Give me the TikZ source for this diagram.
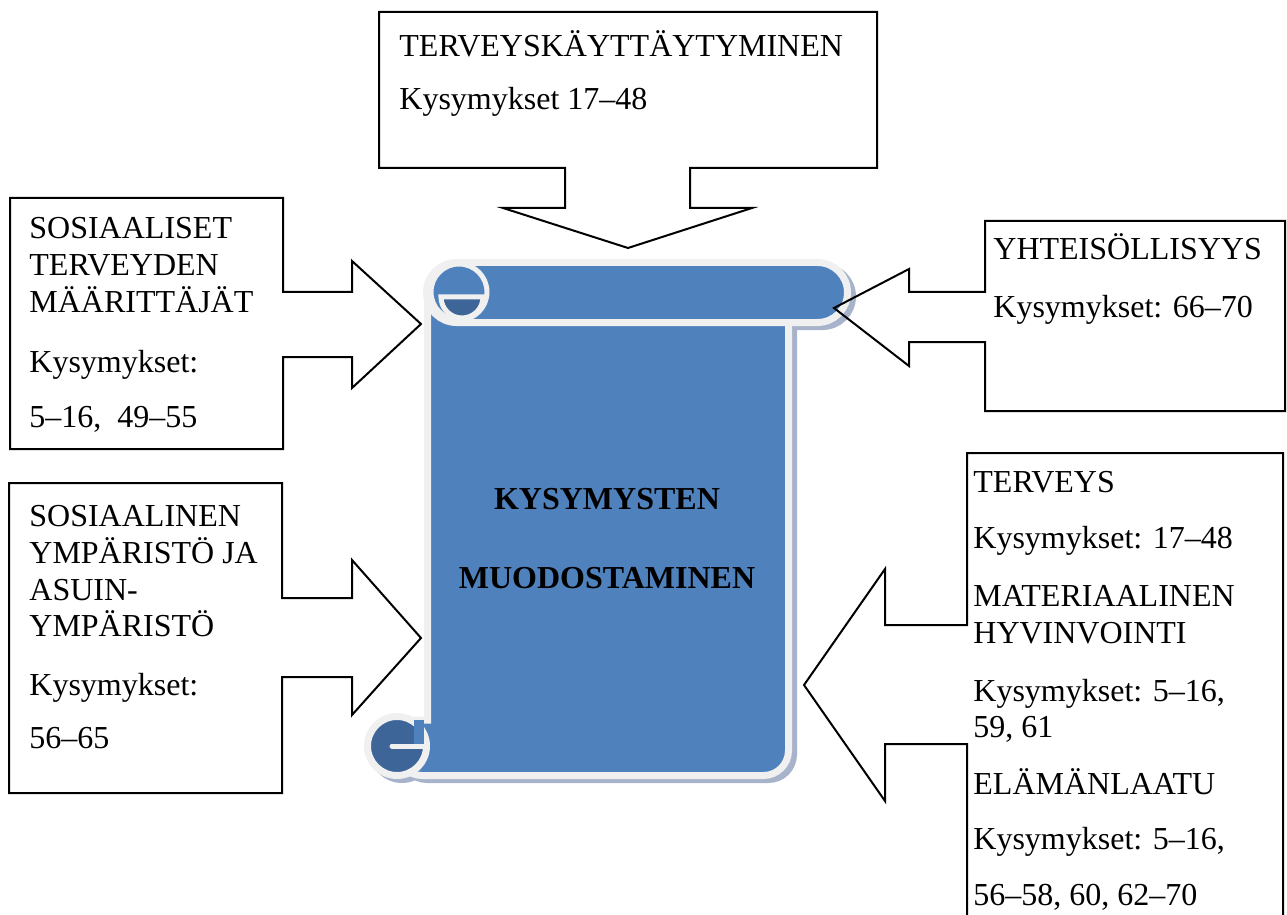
\documentclass[tikz,border=0pt]{standalone}
\usepackage{fontspec}
\setmainfont{Liberation Serif}
\definecolor{scrollblue}{HTML}{4F81BD}
\definecolor{curldark}{HTML}{3E6598}
\definecolor{scrollrim}{HTML}{F0F0F0}
\definecolor{scrollshade}{HTML}{A6B3CB}
\begin{document}
\begin{tikzpicture}[x=0.5pt, y=-0.5pt,
  callout/.style={draw=black, line width=1pt, fill=white},
  rim/.style={draw=scrollrim, line width=3.5pt},
  shade/.style={draw=scrollshade, fill=scrollshade, line width=3.5pt},
  boxtext/.style={anchor=base west, inner sep=0pt, font=\fontsize{16}{18.5}\selectfont},
  scrolltext/.style={anchor=base, inner sep=0pt, font=\fontsize{16}{18.5}\selectfont\bfseries}]
  \useasboundingbox (0,0) rectangle (1287,915);
  \clip (0,0) rectangle (1287,915);
  \begin{scope}[shift={(5,4)}]
  \filldraw[shade] (427.5,300) -- (788.5,300) {[rounded corners=12.5pt] -- (788.5,775.5) -- (397,775.5)}
    -- (397,720) -- (427.5,720) -- cycle;
  \filldraw[shade, rounded corners=15pt] (426.5,262.5) rectangle (847.5,322.5);
  \filldraw[shade] (397,746) circle (29.5);
  \end{scope}
  \filldraw[rim, fill=scrollblue] (427.5,300) -- (788.5,300) {[rounded corners=12.5pt] -- (788.5,775.5) -- (397,775.5)}
    -- (397,720) -- (427.5,720) -- cycle;
  \filldraw[rim, fill=curldark] (397,746) circle (29.5);
  \fill[scrollblue] (414,720) rectangle (424,744);
  \draw[draw=scrollrim, line width=2.5pt, line cap=round] (392,746) -- (424,746);
  \filldraw[rim, fill=scrollblue, rounded corners=15pt] (426.5,262.5) rectangle (847.5,322.5);
  \draw[draw=scrollrim, line width=2.5pt] (459,292) circle (28);
  \filldraw[draw=scrollrim, line width=2.5pt, fill=curldark] (441,297) -- (483,297)
    arc[start angle=0, end angle=180, radius=21] -- cycle;
  \draw[callout] (379,12) -- (877,12) -- (877,168) -- (690,168) -- (690,208) -- (752,208) -- (628,248)
    -- (503,208) -- (565,208) -- (565,168) -- (379,168) -- cycle;
  \draw[callout] (10,198) -- (283,198) -- (283,292) -- (352,292) -- (352,261) -- (421,324) -- (352,388)
    -- (352,357) -- (283,357) -- (283,449) -- (10,449) -- cycle;
  \draw[callout] (9,483) -- (282,483) -- (282,598) -- (352,598) -- (352,560) -- (421,638) -- (352,715)
    -- (352,677) -- (282,677) -- (282,793) -- (9,793) -- cycle;
  \draw[callout, fill=none] (985,221) -- (1285,221) -- (1285,411) -- (985,411) -- (985,342) -- (909,342) -- (909,366)
    -- (834,308) -- (909,269) -- (909,292) -- (985,292) -- cycle;
  \draw[callout] (967,453) -- (1283,453) -- (1283,940) -- (967,940) -- (967,744) -- (885,744) -- (885,801)
    -- (804,685) -- (885,569) -- (885,625) -- (967,625) -- cycle;
  \node[scrolltext] (kys) at (607,509) {KYSYMYSTEN};
  \node[scrolltext] (muo) at (607,588) {MUODOSTAMINEN};
  \node[boxtext] (tk1) at (399,57) {TERVEYSKÄYTTÄYTYMINEN};
  \node[boxtext] (tk2) at (399,110) {Kysymykset 17--48};
  \node[boxtext] (st1) at (29,239) {SOSIAALISET};
  \node[boxtext] (st2) at (29,276) {TERVEYDEN};
  \node[boxtext] (st3) at (29,313) {MÄÄRITTÄJÄT};
  \node[boxtext] (st4) at (29,372) {Kysymykset:};
  \node[boxtext] (st5) at (29,427) {5--16,\ \ 49--55};
  \node[boxtext] (sy1) at (29,526) {SOSIAALINEN};
  \node[boxtext] (sy2) at (29,563) {YMPÄRISTÖ JA};
  \node[boxtext] (sy3) at (29,600) {ASUIN-};
  \node[boxtext] (sy4) at (29,636) {YMPÄRISTÖ};
  \node[boxtext] (sy5) at (29,695) {Kysymykset:};
  \node[boxtext] (sy6) at (29,748) {56--65};
  \node[boxtext] (yh1) at (993,260) {YHTEISÖLLISYYS};
  \node[boxtext] (yh2) at (993,317) {Kysymykset: 66--70};
  \node[boxtext] (te1) at (973,492) {TERVEYS};
  \node[boxtext] (te2) at (973,548) {Kysymykset: 17--48};
  \node[boxtext] (te3) at (973,606) {MATERIAALINEN};
  \node[boxtext] (te4) at (973,643) {HYVINVOINTI};
  \node[boxtext] (te5) at (973,701) {Kysymykset: 5--16,};
  \node[boxtext] (te6) at (973,737) {59, 61};
  \node[boxtext] (te7) at (973,794) {ELÄMÄNLAATU};
  \node[boxtext] (te8) at (973,849) {Kysymykset: 5--16,};
  \node[boxtext] (te9) at (973,905) {56--58, 60, 62--70};
\end{tikzpicture}
\end{document}
